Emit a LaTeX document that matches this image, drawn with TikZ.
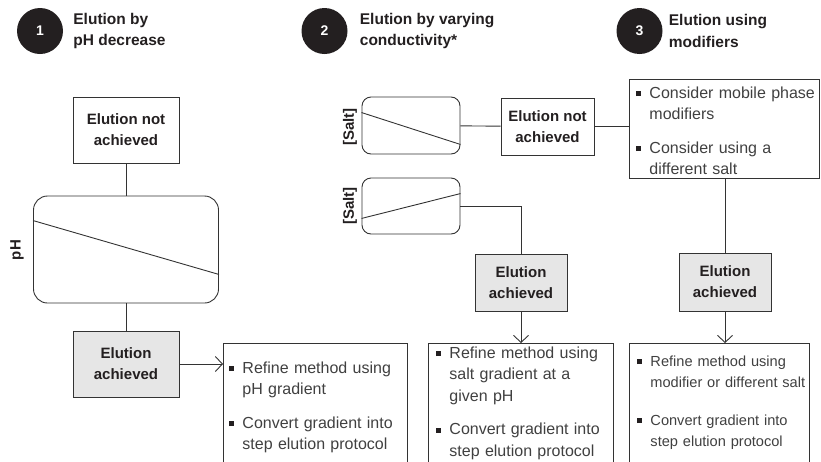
\documentclass[tikz,border=0pt]{standalone}
\usepackage{fontspec}
\setmainfont{Liberation Sans}
\usetikzlibrary{positioning,arrows.meta}
\definecolor{inkdark}{HTML}{231F20}
\definecolor{linegray}{HTML}{333333}
\definecolor{fillgray}{HTML}{E6E6E6}
\definecolor{notegray}{HTML}{404040}
\newcommand{\bul}[1]{\noindent\llap{\makebox[13pt][l]{\textcolor{inkdark}{\rule[2pt]{5pt}{5pt}}}}#1\par}
\newcommand{\bulgap}{\vskip 12pt}
\tikzset{
	numdot/.style={circle, fill=inkdark, minimum size=46pt, inner sep=0pt, text=white, font=\fontsize{14}{16}\selectfont\bfseries},
	headtext/.style={inner sep=0pt, align=left, text=inkdark, font=\fontsize{15.5}{21.5}\selectfont\bfseries},
	resbox/.style={draw=linegray, line width=0.9pt, inner sep=0pt, align=center, text=inkdark, font=\fontsize{15}{21}\selectfont\bfseries},
	gradbox/.style={draw=linegray, line width=0.9pt, inner sep=0pt},
	axislabel/.style={rotate=90, inner sep=0pt, text=inkdark, font=\fontsize{15}{18}\selectfont\bfseries},
	notebox/.style={draw=linegray, line width=0.9pt, inner xsep=0pt, align=left, anchor=north west, text=notegray, font=\fontsize{16}{21.5}\selectfont},
	link/.style={draw=linegray, line width=0.9pt},
	flow/.style={link, -{Straight Barb[length=7pt, width=15pt]}},
}

\begin{document}
\begin{tikzpicture}[x=1pt, y=-1pt]
	\useasboundingbox (0, 0) rectangle (821, 461);
	\clip (0, 0) rectangle (821, 461);

	\node[numdot] (N1) at (40, 31) {1};
	\node[headtext, right=10pt of N1] (H1) {Elution by\\pH decrease};
	\node[numdot] (N2) at (324.5, 31) {2};
	\node[headtext, right=12pt of N2] (H2) {Elution by varying\\conductivity*};
	\node[numdot] (N3) at (639.5, 31) {3};
	\node[headtext, right=6pt of N3] (H3) {Elution using\\modifiers};

	\node[resbox, minimum width=106pt, minimum height=66pt] (NotA) at (126, 130) {Elution not\\achieved};
	\node[gradbox, rounded corners=14pt, minimum width=185pt, minimum height=107pt] (PhG) at (126, 249.5) {};
	\node[axislabel] (PhL) at (17, 250) {pH};
	\node[resbox, fill=fillgray, minimum width=106pt, minimum height=66pt] (YesA) at (126, 364) {Elution\\achieved};
	\node[notebox, text width=184pt, inner ysep=18pt, text depth=160pt] (RefA) at (223, 343) {\leftskip=19pt
		\bul{Refine method using\\pH gradient}\bulgap
		\bul{Convert gradient into\\step elution protocol}};
	\draw[link] ([yshift=-25pt]PhG.north west) -- ([yshift=29pt]PhG.south east);
	\draw[link] (NotA) -- (PhG);
	\draw[link] (PhG) -- (YesA);
	\draw[flow] (YesA.east) -- (YesA.east -| RefA.west);

	\node[gradbox, rounded corners=9pt, minimum width=98pt, minimum height=57pt] (SaltD) at (411, 125.5) {};
	\node[axislabel] (SaltDL) at (350, 127) {[Salt]};
	\node[gradbox, rounded corners=9pt, minimum width=98pt, minimum height=56pt] (SaltU) at (411, 206) {};
	\node[axislabel] (SaltUL) at (350, 206) {[Salt]};
	\node[resbox, minimum width=93pt, minimum height=57pt] (NotB) at (547.5, 126.5) {Elution not\\achieved};
	\node[resbox, fill=fillgray, minimum width=92pt, minimum height=57pt] (YesB) at (521, 282.5) {Elution\\achieved};
	\node[notebox, text width=185pt, inner ysep=3pt, text depth=160pt] (RefB) at (428, 343) {\leftskip=21pt
		\bul{Refine method using\\salt gradient at a\\given pH}\bulgap
		\bul{Convert gradient into\\step elution protocol}};
	\draw[link] ([yshift=-16pt]SaltD.north west) -- ([yshift=10pt]SaltD.south east);
	\draw[link] ([yshift=16pt]SaltU.south west) -- ([yshift=-16pt]SaltU.north east);
	\draw[link] (SaltD) -- (NotB);
	\draw[link] (SaltU.east) -| (YesB.north);
	\draw[flow] (YesB.south) -- (YesB.south |- RefB.north);

	\node[notebox, text width=190pt, inner ysep=7pt, text depth=73pt] (Cons) at (629, 79) {\leftskip=20pt
		\bul{Consider mobile phase\\modifiers}\bulgap
		\bul{Consider using a\\different salt}};
	\node[resbox, fill=fillgray, minimum width=92pt, minimum height=58pt] (YesC) at (725, 282) {Elution\\achieved};
	\node[notebox, text width=180pt, inner ysep=12pt, text depth=160pt, font=\fontsize{14.6}{21.5}\selectfont] (RefC) at (629, 343) {\leftskip=21pt
		\bul{Refine method using\\modifier or different salt}\vskip 16pt
		\bul{Convert gradient into\\step elution protocol}};
	\draw[link] (NotB) -- (Cons.west |- NotB);
	\draw[link] (Cons.south -| YesC.north) -- (YesC.north);
	\draw[flow] (YesC.south) -- (YesC.south |- RefC.north);
\end{tikzpicture}
\end{document}
